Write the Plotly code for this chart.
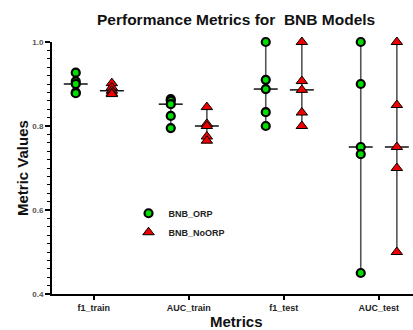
import numpy as np
import plotly.graph_objects as go

categories = ["f1_train", "AUC_train", "f1_test", "AUC_test"]
orp_values = [
    [0.927, 0.906, 0.900, 0.880, 0.878],
    [0.864, 0.860, 0.852, 0.824, 0.795],
    [1.000, 0.910, 0.888, 0.833, 0.800],
    [1.000, 0.900, 0.750, 0.733, 0.450],
]
noorp_values = [
    [0.902, 0.892, 0.884, 0.878, 0.876],
    [0.845, 0.805, 0.800, 0.775, 0.765],
    [1.000, 0.907, 0.886, 0.832, 0.800],
    [1.000, 0.850, 0.750, 0.700, 0.500],
]
series_names = ["BNB_ORP", "BNB_NoORP"]
y_ticks = [0.4, 0.6, 0.8, 1.0]

FONT = "Arial, Liberation Sans, sans-serif"
offset = 0.19
half = 0.126

fig = go.Figure()
series = [
    (orp_values, -offset, dict(symbol="circle", size=8, color="#00DD00", line=dict(color="black", width=2.2))),
    (noorp_values, offset, dict(symbol="triangle-up", size=10, color="#EE0000", line=dict(color="black", width=1))),
]
for si, (vals, off, mk) in enumerate(series):
    for ci, v in enumerate(vals):
        pos = ci + off
        arr = np.array(v)
        fig.add_trace(go.Scatter(x=[pos, pos], y=[arr.min(), arr.max()], mode="lines",
                                 line=dict(color="#555555", width=1.6), showlegend=False,
                                 hoverinfo="skip", cliponaxis=False))
        med = float(np.median(arr))
        fig.add_trace(go.Scatter(x=[pos - half, pos + half], y=[med, med], mode="lines",
                                 line=dict(color="#111111", width=1.5), showlegend=False,
                                 hoverinfo="skip", cliponaxis=False))
for si, (vals, off, mk) in enumerate(series):
    xs, ys = [], []
    for ci, v in enumerate(vals):
        xs += [ci + off] * len(v)
        ys += v
    fig.add_trace(go.Scatter(x=xs, y=ys, mode="markers", marker=mk, name=series_names[si],
                             showlegend=True, cliponaxis=False))

fig.update_layout(
    width=413, height=330,
    margin=dict(l=52, r=0, t=42, b=36),
    plot_bgcolor="white", paper_bgcolor="white",
    font=dict(family=FONT, color="#222222"),
    showlegend=True,
    legend=dict(x=0.212, y=0.378, xanchor="left", yanchor="top", bgcolor="rgba(0,0,0,0)",
                font=dict(family=FONT, size=9, color="#222222", weight="bold"),
                tracegroupgap=0),
    xaxis=dict(range=[-0.44, 3.36], tickmode="array", tickvals=list(range(len(categories))),
               ticktext=categories, showgrid=False, zeroline=False, showline=True,
               linecolor="black", linewidth=2, ticks="outside", ticklen=4, tickwidth=1.5,
               tickcolor="black", tickfont=dict(family=FONT, size=9, color="#222222", weight="bold")),
    yaxis=dict(range=[0.4, 1.0], tickmode="array", tickvals=y_ticks,
               ticktext=[f"{t:.1f}" for t in y_ticks], showgrid=False, zeroline=False,
               showline=True, linecolor="black", linewidth=2, ticks="outside", ticklen=5,
               tickwidth=1.5, tickcolor="black",
               minor=dict(dtick=0.02, ticks="outside", ticklen=3, tickwidth=1.2, tickcolor="black"),
               tickfont=dict(family=FONT, size=8, color="#555555", weight="bold")),
)
pw, ph = 413 - 52, 330 - 42 - 36
fig.update_layout(annotations=[
    dict(text="Performance Metrics for  BNB Models", x=(236 - 52) / pw, y=(294 - 19) / ph,
         xref="paper", yref="paper", showarrow=False, xanchor="center", yanchor="middle",
         font=dict(family=FONT, size=15.5, color="#111111", weight="bold")),
    dict(text="Metrics", x=(236 - 52) / pw, y=(294 - 321) / ph, xref="paper", yref="paper",
         showarrow=False, xanchor="center", yanchor="middle",
         font=dict(family=FONT, size=15, color="#111111", weight="bold")),
    dict(text="Metric Values", x=(22 - 52) / pw, y=(294 - 168) / ph, xref="paper", yref="paper",
         showarrow=False, textangle=-90, xanchor="center", yanchor="middle",
         font=dict(family=FONT, size=15, color="#111111", weight="bold")),
])

fig.write_html("out.html")
